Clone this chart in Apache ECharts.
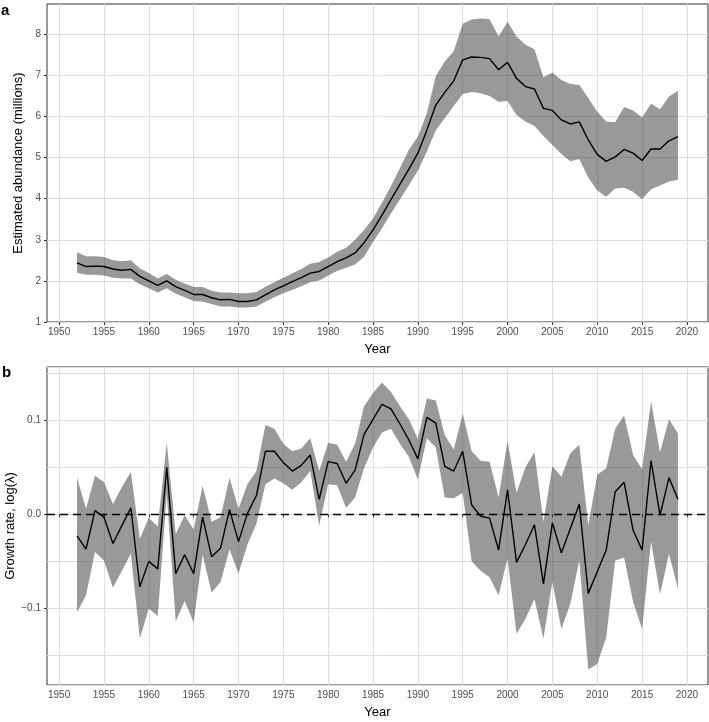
<!DOCTYPE html>
<html>
<head>
<meta charset="utf-8">
<script src="https://cdn.jsdelivr.net/npm/echarts@6.0.0/dist/echarts.min.js"></script>
<style>
  html, body { margin: 0; padding: 0; background: #fff; }
  #chart { width: 709px; height: 722px; }
</style>
</head>
<body>
<div id="chart"></div>
<script>
const years = [1952, 1953, 1954, 1955, 1956, 1957, 1958, 1959, 1960, 1961,
  1962, 1963, 1964, 1965, 1966, 1967, 1968, 1969, 1970, 1971,
  1972, 1973, 1974, 1975, 1976, 1977, 1978, 1979, 1980, 1981,
  1982, 1983, 1984, 1985, 1986, 1987, 1988, 1989, 1990, 1991,
  1992, 1993, 1994, 1995, 1996, 1997, 1998, 1999, 2000, 2001,
  2002, 2003, 2004, 2005, 2006, 2007, 2008, 2009, 2010, 2011,
  2012, 2013, 2014, 2015, 2016, 2017, 2018, 2019];

// tick positions
const yearTicks = [1950, 1955, 1960, 1965, 1970, 1975, 1980, 1985, 1990, 1995, 2000, 2005, 2010, 2015, 2020];
const abundanceTicks = [1, 2, 3, 4, 5, 6, 7, 8];
const growthTicks = [-0.1, 0, 0.1];

// panel a: abundance (millions)
const abundance = [2.44, 2.35, 2.36, 2.35, 2.29, 2.26, 2.28, 2.11, 2.00, 1.89,
  2.00, 1.86, 1.77, 1.67, 1.67, 1.59, 1.54, 1.55, 1.50, 1.50,
  1.54, 1.66, 1.78, 1.88, 1.98, 2.08, 2.19, 2.23, 2.35, 2.47,
  2.56, 2.68, 2.93, 3.24, 3.60, 3.98, 4.35, 4.72, 5.11, 5.67,
  6.28, 6.59, 6.87, 7.38, 7.45, 7.44, 7.41, 7.14, 7.32, 6.93,
  6.73, 6.67, 6.20, 6.15, 5.92, 5.82, 5.87, 5.43, 5.08, 4.91,
  5.02, 5.20, 5.11, 4.93, 5.21, 5.21, 5.41, 5.51];
const abundanceHi = [2.70, 2.60, 2.60, 2.58, 2.50, 2.48, 2.50, 2.30, 2.19, 2.06,
  2.17, 2.03, 1.94, 1.85, 1.85, 1.76, 1.72, 1.72, 1.70, 1.70,
  1.73, 1.86, 1.97, 2.08, 2.18, 2.29, 2.42, 2.46, 2.57, 2.71,
  2.81, 3.00, 3.24, 3.52, 3.90, 4.31, 4.74, 5.19, 5.51, 6.08,
  6.99, 7.34, 7.59, 8.26, 8.36, 8.39, 8.37, 7.95, 8.31, 7.95,
  7.75, 7.64, 6.96, 7.07, 6.89, 6.79, 6.77, 6.45, 6.12, 5.88,
  5.86, 6.23, 6.15, 5.98, 6.31, 6.18, 6.49, 6.63];
const abundanceLo = [2.20, 2.15, 2.15, 2.13, 2.08, 2.06, 2.06, 1.92, 1.82, 1.72,
  1.82, 1.69, 1.60, 1.51, 1.50, 1.44, 1.38, 1.38, 1.35, 1.35,
  1.38, 1.49, 1.60, 1.70, 1.78, 1.87, 1.97, 2.01, 2.13, 2.24,
  2.32, 2.40, 2.59, 2.95, 3.28, 3.64, 3.98, 4.33, 4.68, 5.15,
  5.67, 5.96, 6.26, 6.55, 6.60, 6.57, 6.50, 6.36, 6.38, 6.04,
  5.88, 5.77, 5.53, 5.31, 5.09, 4.91, 4.97, 4.52, 4.20, 4.05,
  4.25, 4.27, 4.17, 3.99, 4.23, 4.32, 4.42, 4.46];

// panel b: growth rate log(lambda)
const growth = [-0.023, -0.037, 0.004, -0.003, -0.031, -0.012, 0.007, -0.077, -0.050, -0.058,
  0.050, -0.063, -0.043, -0.063, -0.003, -0.045, -0.036, 0.005, -0.029, 0.001,
  0.020, 0.067, 0.067, 0.055, 0.046, 0.052, 0.063, 0.016, 0.056, 0.054,
  0.033, 0.047, 0.085, 0.101, 0.117, 0.112, 0.096, 0.079, 0.059, 0.103,
  0.097, 0.051, 0.046, 0.067, 0.010, -0.002, -0.004, -0.038, 0.026, -0.051,
  -0.032, -0.011, -0.074, -0.009, -0.041, -0.015, 0.011, -0.084, -0.061, -0.038,
  0.024, 0.034, -0.017, -0.038, 0.057, -0.001, 0.039, 0.016];
const growthHi = [0.039, 0.006, 0.041, 0.034, 0.011, 0.029, 0.045, -0.026, -0.004, -0.013,
  0.076, -0.021, -0.001, -0.016, 0.030, -0.008, -0.003, 0.039, 0.006, 0.032,
  0.046, 0.095, 0.091, 0.075, 0.067, 0.070, 0.081, 0.046, 0.076, 0.074,
  0.056, 0.075, 0.115, 0.129, 0.140, 0.130, 0.115, 0.101, 0.080, 0.123,
  0.121, 0.084, 0.069, 0.107, 0.067, 0.057, 0.056, 0.018, 0.078, 0.023,
  0.050, 0.066, -0.008, 0.051, 0.040, 0.065, 0.074, -0.012, 0.042, 0.049,
  0.091, 0.105, 0.063, 0.048, 0.120, 0.066, 0.101, 0.086];
const growthLo = [-0.104, -0.086, -0.040, -0.049, -0.078, -0.060, -0.042, -0.132, -0.100, -0.108,
  0.022, -0.114, -0.092, -0.115, -0.043, -0.083, -0.072, -0.037, -0.063, -0.032,
  -0.010, 0.032, 0.038, 0.033, 0.026, 0.034, 0.046, -0.012, 0.032, 0.031,
  0.007, 0.018, 0.049, 0.071, 0.087, 0.091, 0.075, 0.061, 0.037, 0.081,
  0.071, 0.018, 0.017, 0.023, -0.050, -0.060, -0.067, -0.086, -0.047, -0.127,
  -0.111, -0.090, -0.132, -0.072, -0.122, -0.095, -0.049, -0.165, -0.159, -0.131,
  -0.049, -0.046, -0.093, -0.122, -0.029, -0.085, -0.042, -0.079];

const FONT = "'Liberation Sans', Arial, sans-serif";
const GRID_COLOR = '#dedede';
const BAND_COLOR = 'rgba(51,51,51,0.5)';
const TICK = { show: true, length: 3, lineStyle: { color: '#333', width: 1 } };
const LABEL = { color: '#4d4d4d', fontSize: 10, fontFamily: FONT };
const TITLE = { color: '#000', fontSize: 13, fontFamily: FONT };

// one polygon for the whole ribbon
function band(idx, lo, hi) {
  return {
    type: 'custom',
    xAxisIndex: idx,
    yAxisIndex: idx,
    silent: true,
    z: 2,
    data: years.map((y, i) => [y, lo[i], hi[i]]),
    encode: { x: 0, y: [1, 2] },
    renderItem: (params, api) => {
      if (params.dataIndex !== 0) return;
      const pts = [];
      years.forEach((y, i) => pts.push(api.coord([y, hi[i]])));
      for (let i = years.length - 1; i >= 0; i--) pts.push(api.coord([years[i], lo[i]]));
      return { type: 'polygon', shape: { points: pts }, style: { fill: BAND_COLOR } };
    }
  };
}

function line(idx, vals, extra) {
  return Object.assign({
    type: 'line',
    xAxisIndex: idx,
    yAxisIndex: idx,
    data: years.map((y, i) => [y, vals[i]]),
    showSymbol: false,
    silent: true,
    z: 3,
    lineStyle: { color: '#000', width: 1.4 }
  }, extra || {});
}

function xAxis(idx) {
  return {
    type: 'value',
    gridIndex: idx,
    min: 1948.65,
    max: 2022.35,
    minInterval: 5,
    maxInterval: 5,
    splitNumber: 14,
    axisLine: { show: false },
    axisTick: Object.assign({ customValues: yearTicks }, TICK),
    axisLabel: Object.assign({ customValues: yearTicks, margin: 5, formatter: v => String(Math.round(v)) }, LABEL),
    splitLine: { show: true, lineStyle: { color: GRID_COLOR, width: 1 } },
    name: 'Year',
    nameLocation: 'middle',
    nameGap: 21,
    nameMoveOverlap: false,
    nameTextStyle: TITLE
  };
}

const option = {
  animation: false,
  backgroundColor: '#fff',
  grid: [
    { left: 47, top: 4, width: 661, height: 318, show: true, borderColor: '#333', borderWidth: 1,
      containLabel: false, outerBoundsMode: 'none' },
    { left: 47, top: 367, width: 661, height: 318, show: true, borderColor: '#333', borderWidth: 1,
      containLabel: false, outerBoundsMode: 'none' }
  ],
  xAxis: [xAxis(0), xAxis(1)],
  yAxis: [
    {
      type: 'value',
      gridIndex: 0,
      min: 1,
      max: 8.74,
      minInterval: 1,
      maxInterval: 1,
      axisLine: { show: false },
      axisTick: Object.assign({ customValues: abundanceTicks }, TICK),
      axisLabel: Object.assign({ customValues: abundanceTicks, margin: 6, formatter: v => String(Math.round(v)) }, LABEL),
      splitLine: { show: true, lineStyle: { color: GRID_COLOR, width: 1 } },
      name: 'Estimated abundance (millions)',
      nameLocation: 'middle',
      nameGap: 22,
      nameMoveOverlap: false,
      nameTextStyle: TITLE
    },
    {
      type: 'value',
      gridIndex: 1,
      min: -0.1814,
      max: 0.1566,
      minInterval: 0.1,
      maxInterval: 0.1,
      axisLine: { show: false },
      axisTick: Object.assign({ customValues: growthTicks }, TICK),
      axisLabel: Object.assign({
        customValues: growthTicks, margin: 6,
        formatter: v => (v < -1e-9 ? '\u2212' : '') + Math.abs(v).toFixed(1)
      }, LABEL),
      splitLine: { show: false },
      name: 'Growth rate, log(\u03bb)',
      nameLocation: 'middle',
      nameGap: 30,
      nameMoveOverlap: false,
      nameTextStyle: TITLE
    },
    {
      // grid lines every 0.05 for panel b
      type: 'value',
      gridIndex: 1,
      min: -0.1814,
      max: 0.1566,
      minInterval: 0.05,
      maxInterval: 0.05,
      splitNumber: 7,
      position: 'left',
      axisLine: { show: false },
      axisTick: { show: false },
      axisLabel: { show: false },
      splitLine: { show: true, lineStyle: { color: GRID_COLOR, width: 1 } }
    }
  ],
  graphic: [
    { type: 'text', left: 1, top: 3, style: { text: 'a', font: 'bold 15px ' + FONT, fill: '#000' } },
    { type: 'text', left: 2, top: 365, style: { text: 'b', font: 'bold 15px ' + FONT, fill: '#000' } }
  ],
  series: [
    band(0, abundanceLo, abundanceHi),
    line(0, abundance),
    band(1, growthLo, growthHi),
    line(1, growth, {
      markLine: {
        silent: true,
        symbol: ['none', 'none'],
        label: { show: false },
        lineStyle: { color: '#000', type: [8, 5], width: 1.4 },
        data: [{ yAxis: 0 }]
      }
    })
  ]
};

const chart = echarts.init(document.getElementById('chart'));
chart.setOption(option);
</script>
</body>
</html>
